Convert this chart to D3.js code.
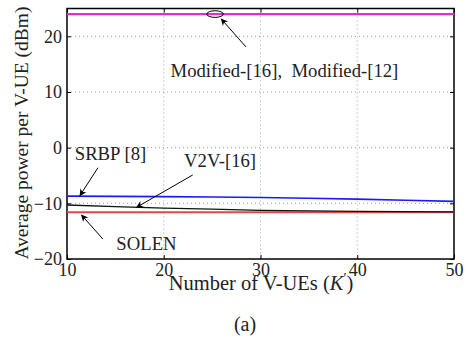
<!DOCTYPE html>
<html>
<head>
<meta charset="utf-8">
<script src="https://cdn.jsdelivr.net/npm/d3@7"></script>
<style>
  body { margin: 0; background: #fff; }
</style>
</head>
<body>
<div id="chart"></div>
<script>
// values
const users = [10, 15, 20, 25, 30, 35, 40, 45, 50];
const modified = [24, 24, 24, 24, 24, 24, 24, 24, 24];
const srbp = [-8.7, -8.75, -8.8, -8.85, -8.95, -9.1, -9.25, -9.45, -9.65];
const v2v = [-10.3, -10.6, -10.85, -11.05, -11.25, -11.35, -11.45, -11.5, -11.55];
const solen = [-11.6, -11.6, -11.6, -11.6, -11.6, -11.6, -11.6, -11.6, -11.6];
const xTicks = [10, 20, 30, 40, 50];
const yTicks = [-20, -10, 0, 10, 20];

const width = 470, height = 343;
const margin = { top: 8.5, right: 16, bottom: 84, left: 67 };
const w = width - margin.left - margin.right;
const h = height - margin.top - margin.bottom;

const svg = d3.select("#chart").append("svg")
  .attr("width", width)
  .attr("height", height);

const g = svg.append("g")
  .attr("transform", `translate(${margin.left},${margin.top})`);

const x = d3.scaleLinear().domain([10, 50]).range([0, w]);
const y = d3.scaleLinear().domain([-20, 25]).range([h, 0]);

// grid
g.append("g").selectAll("line")
  .data(xTicks.slice(1, -1))
  .enter().append("line")
  .attr("x1", d => x(d)).attr("x2", d => x(d))
  .attr("y1", 0).attr("y2", h)
  .attr("stroke", "#888").attr("stroke-width", 0.8)
  .attr("stroke-dasharray", "1,3");
g.append("g").selectAll("line")
  .data(yTicks.slice(1))
  .enter().append("line")
  .attr("x1", 0).attr("x2", w)
  .attr("y1", d => y(d)).attr("y2", d => y(d))
  .attr("stroke", "#888").attr("stroke-width", 0.8)
  .attr("stroke-dasharray", "1,3");

// axes
const xAxis = d3.axisBottom(x).tickValues(xTicks).tickSize(-4).tickSizeOuter(0).tickPadding(4);
const yAxis = d3.axisLeft(y).tickValues(yTicks).tickSize(-4).tickSizeOuter(0).tickPadding(5)
  .tickFormat(d => d < 0 ? "\u2212" + Math.abs(d) : d);

const gx = g.append("g").attr("transform", `translate(0,${h})`).call(xAxis);
const gy = g.append("g").call(yAxis);
g.append("g").attr("transform", `translate(${w},0)`)
  .call(d3.axisRight(y).tickValues(yTicks).tickSize(-4).tickFormat(""));
g.append("g")
  .call(d3.axisTop(x).tickValues(xTicks).tickSize(-4).tickFormat(""));
g.selectAll(".domain").remove();
g.selectAll(".tick line").attr("stroke", "#000");
g.selectAll(".tick text").attr("font-size", 18).attr("fill", "#222");

// frame
g.append("rect").attr("width", w).attr("height", h)
  .attr("fill", "none").attr("stroke", "#000").attr("stroke-width", 1.5);

// series
const line = d3.line().x((d, i) => x(users[i])).y(d => y(d));
const series = [
  { v: modified, c: "#e030c0", sw: 2.2 },
  { v: srbp, c: "#1a1aff", sw: 1.6 },
  { v: solen, c: "#e04848", sw: 2 },
  { v: v2v, c: "#111", sw: 1.3 }
];
g.selectAll(".series").data(series).enter().append("path")
  .attr("class", "series")
  .attr("d", d => line(d.v))
  .attr("fill", "none")
  .attr("stroke", d => d.c)
  .attr("stroke-width", d => d.sw);

// annotations
const defs = svg.append("defs");
defs.append("marker").attr("id", "ah")
  .attr("viewBox", "0 0 10 10").attr("refX", 9).attr("refY", 5)
  .attr("markerWidth", 10).attr("markerHeight", 7).attr("orient", "auto")
  .attr("markerUnits", "userSpaceOnUse")
  .append("path").attr("d", "M0,0 L10,5 L0,10 L3,5 Z").attr("fill", "#000");

function arrow(x1, y1, x2, y2) {
  g.append("line")
    .attr("x1", x(x1)).attr("y1", y(y1))
    .attr("x2", x(x2)).attr("y2", y(y2))
    .attr("stroke", "#000").attr("stroke-width", 1)
    .attr("marker-end", "url(#ah)");
}
function label(t, xv, yv) {
  g.append("text").attr("x", x(xv)).attr("y", y(yv))
    .attr("font-size", 18.7).attr("fill", "#222").text(t);
}

g.append("ellipse").attr("cx", x(25.3)).attr("cy", y(24))
  .attr("rx", 8.3).attr("ry", 3.3)
  .attr("fill", "none").attr("stroke", "#000").attr("stroke-width", 1);
arrow(28.5, 18.1, 25.95, 23.1);
label("Modified-[16],\u00a0\u00a0Modified-[12]", 20.7, 12.7);

label("SRBP [8]", 10.8, -2.3);
arrow(13.2, -3.6, 11.34, -8.6);

label("V2V-[16]", 22.1, -3.5);
arrow(23.0, -4.9, 17.2, -10.7);

label("SOLEN", 15.1, -18.3);
arrow(13.7, -16.4, 11.5, -12.1);

// axis titles
const xl = svg.append("text")
  .attr("x", 261).attr("y", 290)
  .attr("text-anchor", "middle").attr("font-size", 20.5).attr("fill", "#222");
xl.append("tspan").text("Number of V-UEs (");
xl.append("tspan").attr("font-style", "italic").text("K");
xl.append("tspan").attr("font-size", 14).attr("dy", -7).text("\u2032");
xl.append("tspan").attr("dy", 7).text(")");

svg.append("text")
  .attr("transform", "translate(28,133) rotate(-90)")
  .attr("text-anchor", "middle").attr("font-size", 19.5).attr("fill", "#222")
  .text("Average power per V-UE (dBm)");

svg.append("text")
  .attr("x", 245).attr("y", 331)
  .attr("text-anchor", "middle").attr("font-size", 20).attr("fill", "#222")
  .text("(a)");

svg.selectAll("text").style("font-family", "'Liberation Serif'");
</script>
</body>
</html>
